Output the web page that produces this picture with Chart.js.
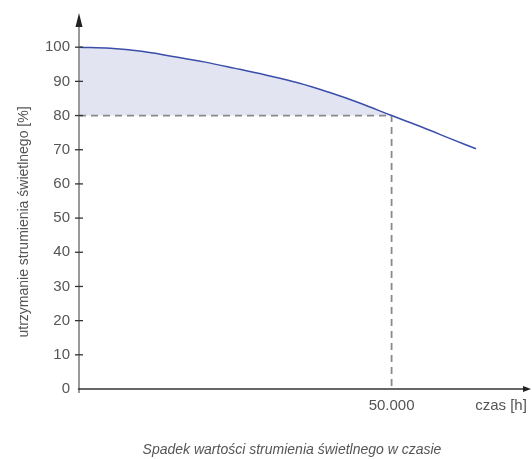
<!DOCTYPE html>
<html>
<head>
<meta charset="utf-8">
<script src="https://cdn.jsdelivr.net/npm/chart.js@4/dist/chart.umd.min.js"></script>
<style>
  html, body { margin: 0; padding: 0; background: #fff; }
  #wrap { width: 532px; height: 459px; position: relative; }
</style>
</head>
<body>
<div id="wrap"><canvas id="chart"></canvas></div>
<script>
// Data
const timeHours = [0, 5000, 10000, 15000, 20000, 25000, 30000, 35000, 40000, 45000, 50000, 55000, 60000, 63500];
const fluxPercent = [100, 99.7, 98.8, 97.3, 95.7, 93.8, 91.8, 89.6, 86.8, 83.6, 80.0, 76.5, 72.8, 70.3];
const yTickValues = [0, 10, 20, 30, 40, 50, 60, 70, 80, 90, 100];
const xTickValues = [50000, 67500];
const xTickLabels = ['50.000', 'czas [h]'];
const refTime = 50000;
const refLevel = 80;
const yAxisTitle = 'utrzymanie strumienia świetlnego [%]';
const chartTitle = 'Spadek wartości strumienia świetlnego w czasie';

const curvePoints = timeHours.map((t, i) => ({ x: t, y: fluxPercent[i] }));
const fillPoints = curvePoints.filter(p => p.x <= refTime);
const refPoints = [
    { x: 0, y: refLevel },
    { x: refTime, y: refLevel },
    { x: refTime, y: 0 }
];

// Axes with arrows, tick marks and the two titles
const axesPlugin = {
    id: 'axesPlugin',
    afterDatasetsDraw(chart) {
        const ctx = chart.ctx;
        const area = chart.chartArea;
        const y = chart.scales.y;
        const x0 = area.left;
        const y0 = y.getPixelForValue(0);
        ctx.save();

        // y axis
        ctx.strokeStyle = '#9a9a9a';
        ctx.lineWidth = 2;
        ctx.beginPath();
        ctx.moveTo(x0, y0 + 4);
        ctx.lineTo(x0, area.top + 10);
        ctx.stroke();
        ctx.fillStyle = '#222';
        ctx.beginPath();
        ctx.moveTo(x0, area.top);
        ctx.lineTo(x0 - 3.5, area.top + 14);
        ctx.lineTo(x0 + 3.5, area.top + 14);
        ctx.closePath();
        ctx.fill();

        // y tick marks
        ctx.strokeStyle = '#333';
        ctx.lineWidth = 1.3;
        yTickValues.forEach(v => {
            if (v === 0) return;
            const py = y.getPixelForValue(v);
            ctx.beginPath();
            ctx.moveTo(x0 - 4, py);
            ctx.lineTo(x0 + 4, py);
            ctx.stroke();
        });

        // x axis
        ctx.strokeStyle = '#333';
        ctx.lineWidth = 1.5;
        ctx.beginPath();
        ctx.moveTo(x0 - 1, y0);
        ctx.lineTo(area.right - 6, y0);
        ctx.stroke();
        ctx.fillStyle = '#222';
        ctx.beginPath();
        ctx.moveTo(area.right, y0);
        ctx.lineTo(area.right - 8, y0 - 3);
        ctx.lineTo(area.right - 8, y0 + 3);
        ctx.closePath();
        ctx.fill();

        // y axis title
        ctx.fillStyle = '#555';
        ctx.font = '14px "Liberation Sans", Arial, sans-serif';
        ctx.textAlign = 'center';
        ctx.textBaseline = 'middle';
        ctx.save();
        ctx.translate(24, 222);
        ctx.rotate(-Math.PI / 2);
        ctx.fillText(yAxisTitle, 0, 0);
        ctx.restore();

        // chart caption
        ctx.font = 'italic 14px "Liberation Sans", Arial, sans-serif';
        ctx.fillText(chartTitle, 292, 450);
        ctx.restore();
    }
};

new Chart(document.getElementById('chart'), {
    type: 'line',
    data: {
        datasets: [
            {
                label: 'curve',
                data: curvePoints,
                borderColor: 'rgb(58, 78, 170)',
                borderWidth: 1.5,
                pointRadius: 0,
                tension: 0.4,
                fill: false,
                order: 0
            },
            {
                label: 'reference',
                data: refPoints,
                borderColor: '#8a8a8a',
                borderWidth: 1.8,
                borderDash: [7, 5],
                pointRadius: 0,
                tension: 0,
                fill: false,
                order: 1
            },
            {
                label: 'area',
                data: fillPoints,
                borderWidth: 0,
                borderColor: 'rgba(0,0,0,0)',
                backgroundColor: 'rgb(226, 229, 241)',
                pointRadius: 0,
                tension: 0.4,
                fill: { value: refLevel },
                order: 2
            }
        ]
    },
    options: {
        responsive: true,
        maintainAspectRatio: false,
        animation: false,
        layout: {
            padding: { top: 13, right: 1, left: 0, bottom: 0 }
        },
        scales: {
            x: {
                type: 'linear',
                min: 0,
                max: 72300,
                grid: { display: false, drawTicks: false },
                border: { display: false },
                afterBuildTicks: scale => {
                    scale.ticks = xTickValues.map(v => ({ value: v }));
                },
                afterFit: scale => {
                    scale.height = 70;
                    scale.paddingLeft = 0;
                    scale.paddingRight = 0;
                },
                ticks: {
                    autoSkip: false,
                    maxRotation: 0,
                    padding: 8,
                    color: '#555',
                    font: { family: '"Liberation Sans", Arial, sans-serif', size: 15 },
                    callback: (value) => {
                        const i = xTickValues.indexOf(value);
                        return i >= 0 ? xTickLabels[i] : '';
                    }
                }
            },
            y: {
                type: 'linear',
                min: 0,
                max: 110,
                grid: { display: false, drawTicks: false },
                border: { display: false },
                afterBuildTicks: scale => {
                    scale.ticks = yTickValues.map(v => ({ value: v }));
                },
                afterFit: scale => {
                    scale.width = 79;
                    scale.paddingTop = 0;
                    scale.paddingBottom = 0;
                },
                ticks: {
                    padding: 9,
                    color: '#555',
                    font: { family: '"Liberation Sans", Arial, sans-serif', size: 15 }
                }
            }
        },
        plugins: {
            legend: { display: false },
            tooltip: { enabled: false }
        }
    },
    plugins: [axesPlugin]
});
</script>
</body>
</html>
